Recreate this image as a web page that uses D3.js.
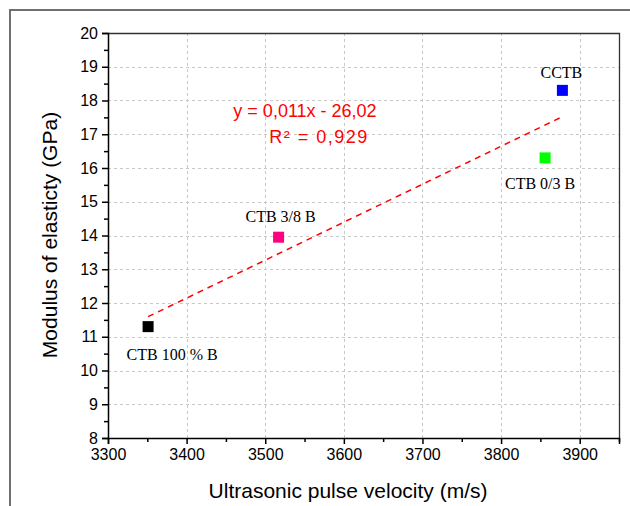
<!DOCTYPE html>
<html>
<head>
<meta charset="utf-8">
<script src="https://cdn.jsdelivr.net/npm/d3@7"></script>
<style>
  body { margin: 0; background: #fff; }
  svg { display: block; }
</style>
</head>
<body>
<div id="chart"></div>
<script>
// samples
var names = ['CTB 100 % B', 'CTB 3/8 B', 'CTB 0/3 B', 'CCTB'];
var velocity = [3351, 3517, 3856, 3878];
var modulus = [11.3, 13.95, 16.3, 18.3];
var colors = ['#000000', '#ff0080', '#00ff00', '#0000ff'];
var xTicks = [3300, 3400, 3500, 3600, 3700, 3800, 3900];
var yTicks = [8, 9, 10, 11, 12, 13, 14, 15, 16, 17, 18, 19, 20];
var eqLines = ['y = 0,011x - 26,02', 'R\u00b2 = 0,929'];

var W = 630, H = 506;
var svg = d3.select('#chart').append('svg')
  .attr('width', W)
  .attr('height', H);

// outer frame (cut off at right and bottom)
svg.append('path')
  .attr('d', 'M10,' + H + 'V10H' + W)
  .attr('fill', 'none')
  .attr('stroke', '#707070')
  .attr('stroke-width', 2);

var pLeft = 108, pRight = 619, pTop = 33, pBottom = 438;

var x = d3.scaleLinear().domain([3300, 3950]).range([pLeft, pRight]);
var y = d3.scaleLinear().domain([8, 20]).range([pBottom, pTop]);

// grid
var grid = svg.append('g')
  .attr('stroke', '#c8c8c8')
  .attr('stroke-width', 1)
  .attr('stroke-dasharray', '3,3');
grid.selectAll('.gx').data(xTicks.slice(1)).enter().append('line')
  .attr('x1', function(d) { return Math.round(x(d)) + 0.5; })
  .attr('x2', function(d) { return Math.round(x(d)) + 0.5; })
  .attr('y1', pTop).attr('y2', pBottom);
grid.selectAll('.gy').data(yTicks.slice(1, -1)).enter().append('line')
  .attr('y1', function(d) { return Math.round(y(d)) + 0.5; })
  .attr('y2', function(d) { return Math.round(y(d)) + 0.5; })
  .attr('x1', pLeft).attr('x2', pRight);

// plot box (top, right)
svg.append('path')
  .attr('d', 'M' + pLeft + ',' + (pTop + 0.5) + 'H' + (pRight + 0.5) + 'V' + pBottom)
  .attr('fill', 'none')
  .attr('stroke', '#333')
  .attr('stroke-width', 1.3);

// axes
var xAxis = d3.axisBottom(x).tickValues(xTicks).tickSize(6).tickPadding(5).tickFormat(d3.format('d'));
var xMinor = d3.axisBottom(x).tickValues(d3.range(3350, 3951, 100)).tickSize(4).tickFormat('');
var yAxis = d3.axisLeft(y).tickValues(yTicks).tickSize(6).tickPadding(4).tickFormat(d3.format('d'));
var yMinor = d3.axisLeft(y).tickValues(d3.range(8.5, 20, 1)).tickSize(4).tickFormat('');

function styleAxis(g) {
  g.select('.domain').attr('stroke', '#000').attr('stroke-width', 1.5);
  g.selectAll('.tick line').attr('stroke', '#000').attr('stroke-width', 1.5);
  g.selectAll('text').attr('font-family', 'Liberation Sans, Arial, sans-serif')
    .attr('font-size', 16).attr('fill', '#000');
}

svg.append('g').attr('transform', 'translate(0,' + pBottom + ')').call(xMinor).call(styleAxis)
  .select('.domain').remove();
svg.append('g').attr('transform', 'translate(' + pLeft + ',0)').call(yMinor).call(styleAxis)
  .select('.domain').remove();
svg.append('g').attr('transform', 'translate(0,' + pBottom + ')').call(xAxis).call(styleAxis);
svg.append('g').attr('transform', 'translate(' + pLeft + ',0)').call(yAxis).call(styleAxis);

// axis titles
svg.append('text')
  .attr('x', 348)
  .attr('y', 498)
  .attr('text-anchor', 'middle')
  .attr('font-family', 'Liberation Sans, Arial, sans-serif')
  .attr('font-size', 21)
  .text('Ultrasonic pulse velocity (m/s)');

svg.append('text')
  .attr('transform', 'translate(57,235) rotate(-90)')
  .attr('text-anchor', 'middle')
  .attr('font-family', 'Liberation Sans, Arial, sans-serif')
  .attr('font-size', 21)
  .text('Modulus of elasticty (GPa)');

// least squares fit through the points
var mx = d3.mean(velocity), my = d3.mean(modulus);
var sxy = d3.sum(velocity, function(v, i) { return (v - mx) * (modulus[i] - my); });
var sxx = d3.sum(velocity, function(v) { return (v - mx) * (v - mx); });
var slope = sxy / sxx, icpt = my - slope * mx;
var fitX = d3.extent(velocity);

var line = d3.line()
  .x(function(d) { return x(d); })
  .y(function(d) { return y(slope * d + icpt); });

svg.append('path')
  .attr('d', line(fitX))
  .attr('fill', 'none')
  .attr('stroke', '#ff0000')
  .attr('stroke-width', 1.5)
  .attr('stroke-dasharray', '6,5');

// points
var pts = d3.range(velocity.length);
svg.append('g').selectAll('rect')
  .data(pts)
  .enter()
  .append('rect')
  .attr('x', function(i) { return x(velocity[i]) - 5.5; })
  .attr('y', function(i) { return y(modulus[i]) - 5.5; })
  .attr('width', 11)
  .attr('height', 11)
  .attr('fill', function(i) { return colors[i]; });

// point labels
var labelOff = [[24, 28], [2, -20], [-5, 26], [-1, -17]];
svg.append('g').selectAll('text')
  .data(pts)
  .enter()
  .append('text')
  .attr('x', function(i) { return x(velocity[i]) + labelOff[i][0]; })
  .attr('y', function(i) { return y(modulus[i]) + labelOff[i][1] + 5; })
  .attr('text-anchor', 'middle')
  .attr('font-family', 'Liberation Serif, Times New Roman, serif')
  .attr('font-size', 16)
  .text(function(i) { return names[i]; });

// equation
var eqPos = [[305, 117], [319, 143]];
svg.append('g').selectAll('text')
  .data(eqLines)
  .enter()
  .append('text')
  .attr('x', function(d, i) { return eqPos[i][0]; })
  .attr('y', function(d, i) { return eqPos[i][1]; })
  .attr('text-anchor', 'middle')
  .attr('font-family', 'Liberation Sans, Arial, sans-serif')
  .attr('font-size', 18)
  .attr('letter-spacing', function(d, i) { return i ? 1.5 : 0; })
  .attr('fill', '#ff0000')
  .text(function(d) { return d; });
</script>
</body>
</html>
